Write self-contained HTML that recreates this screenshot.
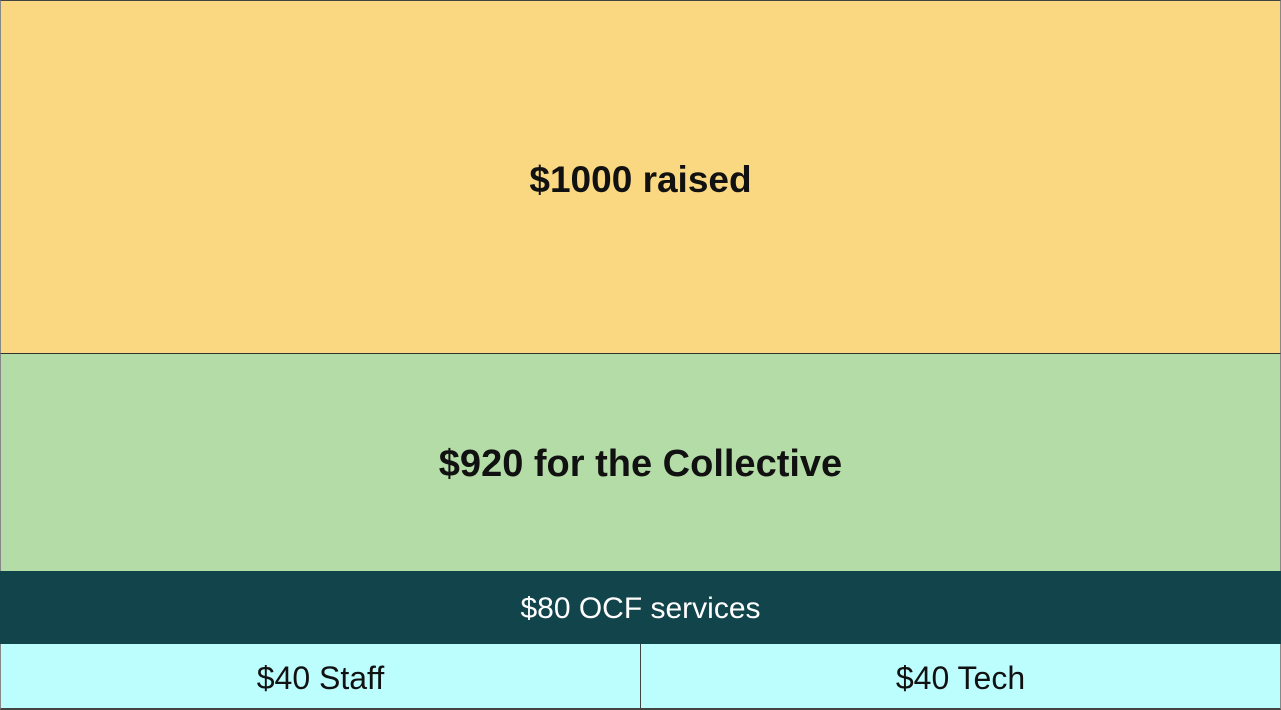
<!DOCTYPE html>
<html><head><meta charset="utf-8"><style>
html,body{margin:0;padding:0;width:1281px;height:710px;overflow:hidden;background:#fff;font-family:"Liberation Sans",sans-serif;}
.b{position:absolute;display:flex;align-items:center;justify-content:center;color:#111;box-sizing:border-box;}
</style></head><body>
<div style="position:absolute;left:0;top:0;width:1281px;height:710px;">
<div class="b" style="left:0;top:0;width:1281px;height:354px;background:#fad882;border-top:1px solid #444;border-left:1px solid #888;border-right:1px solid #888;border-bottom:1px solid #333;font-weight:bold;font-size:37px;padding-top:6px;">$1000 raised</div>
<div class="b" style="left:0;top:354px;width:1281px;height:217px;background:#b4dca7;border-left:1px solid #888;border-right:1px solid #888;font-weight:bold;font-size:38px;padding-top:4px;">$920 for the Collective</div>
<div class="b" style="left:0;top:571px;width:1281px;height:73px;background:#12454b;color:#fff;font-size:30px;padding-top:3px;">$80 OCF services</div>
<div class="b" style="left:0;top:644px;width:641px;height:66px;background:#bcfdfd;border-right:1px solid #444;border-left:1px solid #888;border-bottom:2px solid #444;font-size:32px;padding-top:4px;">$40 Staff</div>
<div class="b" style="left:641px;top:644px;width:640px;height:66px;background:#bcfdfd;border-right:1px solid #888;border-bottom:2px solid #444;font-size:32px;padding-top:4px;">$40 Tech</div>
</div>
</body></html>
